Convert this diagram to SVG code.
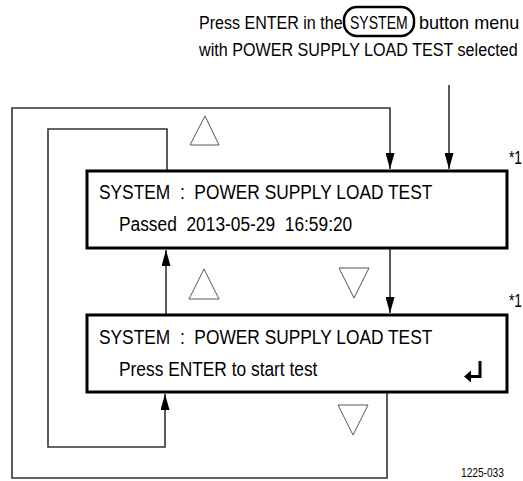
<svg xmlns="http://www.w3.org/2000/svg" width="523" height="481" viewBox="0 0 523 481">
<defs>
<style>
text{font-family:"Liberation Sans",Arial,sans-serif;fill:#000}
.lcd{font-size:19.5px}
.t{font-size:19px}
.note{font-size:18px}
.fig{font-size:12.5px}
.box{fill:#fff;stroke:#000;stroke-width:3}
.wire{fill:none;stroke:#333;stroke-width:1.6}
.key{fill:#fff;stroke:#555;stroke-width:1}
.icon{fill:none;stroke:#000;stroke-width:3}
</style>
<marker id="ah" markerUnits="userSpaceOnUse" markerWidth="16" markerHeight="9" refX="16" refY="4.5" orient="auto">
<path d="M0,0 L16,4.5 L0,9 z" fill="#000"/>
</marker>
</defs>
<rect width="523" height="481" fill="#fff"/>

<g id="connectors">
<path class="wire" d="M387,392 V478 H12 V108 H390 V169" marker-end="url(#ah)"/>
<path class="wire" d="M390,249 V313" marker-end="url(#ah)"/>
<path class="wire" d="M449,85 V169" marker-end="url(#ah)"/>
<path class="wire" d="M167,171 V129 H48 V447 H165 V394" marker-end="url(#ah)"/>
<path class="wire" d="M166,315 V250" marker-end="url(#ah)"/>
</g>

<g id="instruction">
<text class="t" transform="matrix(0.845 0 0 1 199 29)">Press ENTER in the</text>
<rect x="344" y="7" width="70" height="29" rx="13" fill="none" stroke="#000" stroke-width="2.5"/>
<text class="t" transform="matrix(0.74 0 0 1 350 29)">SYSTEM</text>
<text class="t" transform="matrix(0.95 0 0 1 419 29)">button menu</text>
<text class="t" transform="matrix(0.849 0 0 1 199 56)">with POWER SUPPLY LOAD TEST selected</text>
</g>

<g id="keys">
<polygon class="key" points="205,116 219,145 190,145"/>
<polygon class="key" points="204,269 219,299 189,299"/>
<polygon class="key" points="339,268 369,268 354,298"/>
<polygon class="key" points="338,405 368,405 353,435"/>
</g>

<g id="box-passed">
<rect class="box" x="87" y="171" width="420" height="77"/>
<text class="lcd" transform="matrix(0.89 0 0 1 99 199)" xml:space="preserve">SYSTEM  :  POWER SUPPLY LOAD TEST</text>
<text class="lcd" transform="matrix(0.89 0 0 1 119 231)" xml:space="preserve">Passed  2013-05-29  16:59:20</text>
<text class="note" transform="matrix(0.765 0 0 1 509 164)">*1</text>
</g>

<g id="box-start">
<rect class="box" x="87" y="315" width="420" height="77"/>
<text class="lcd" transform="matrix(0.89 0 0 1 99 344)" xml:space="preserve">SYSTEM  :  POWER SUPPLY LOAD TEST</text>
<text class="lcd" transform="matrix(0.89 0 0 1 119 376)">Press ENTER to start test</text>
<path class="icon" d="M480,361 V376.5 H469"/>
<path d="M464,376.5 L471,370.5 L471,382.5 z" fill="#000"/>
<text class="note" transform="matrix(0.765 0 0 1 509 307)">*1</text>
</g>

<g id="figure-number">
<text class="fig" transform="matrix(0.814 0 0 1 461 477)">1225-033</text>
</g>
</svg>
